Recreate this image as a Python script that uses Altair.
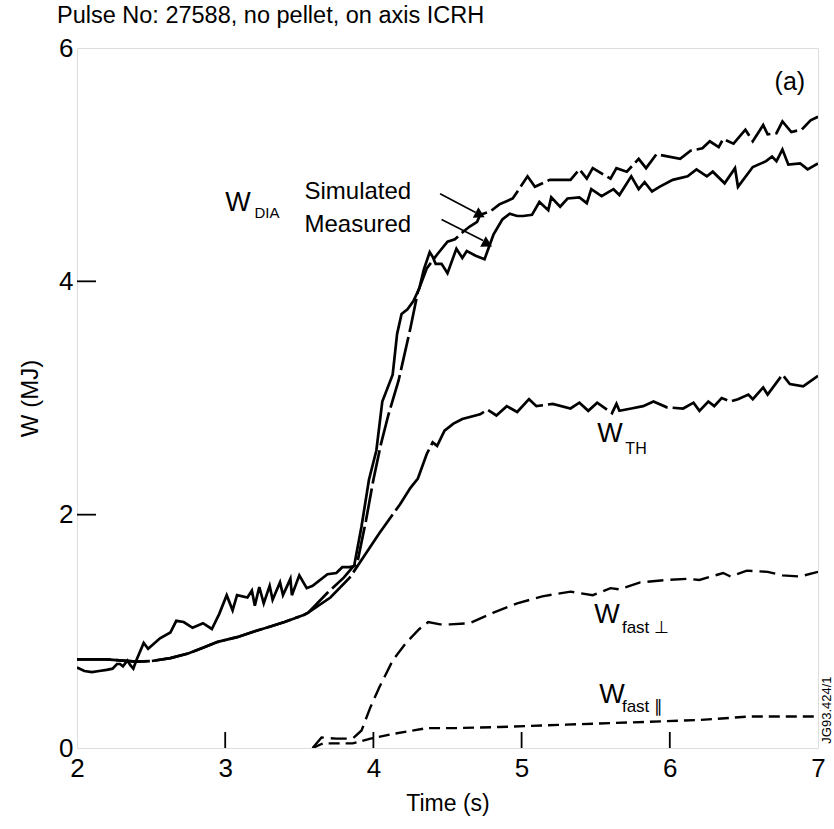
import altair as alt
import pandas as pd

# ---------------- data ----------------
meas_t = [2.0, 2.05, 2.1, 2.15, 2.2, 2.24, 2.27, 2.29, 2.31, 2.34, 2.36, 2.38, 2.4, 2.45, 2.48, 2.56,
          2.63, 2.67, 2.72, 2.78, 2.85, 2.91, 2.96, 3.01, 3.05, 3.08, 3.15, 3.18, 3.2, 3.23, 3.26,
          3.3, 3.32, 3.37, 3.39, 3.44, 3.45, 3.5, 3.55, 3.59, 3.69, 3.75, 3.79, 3.84, 3.87, 3.92,
          3.97, 4.02, 4.06, 4.13, 4.16, 4.19, 4.23, 4.27, 4.31, 4.34, 4.38, 4.40, 4.42, 4.46, 4.5,
          4.56, 4.6, 4.63, 4.69, 4.75, 4.81, 4.87, 4.92, 4.97, 5.01, 5.07, 5.12, 5.18, 5.2, 5.26,
          5.31, 5.39, 5.44, 5.47, 5.54, 5.62, 5.66, 5.74, 5.79, 5.83, 5.88, 5.93, 6.02, 6.12, 6.18,
          6.25, 6.29, 6.37, 6.44, 6.46, 6.56, 6.65, 6.69, 6.72, 6.76, 6.8, 6.88, 6.93, 7.0]
meas_w = [0.69, 0.66, 0.65, 0.66, 0.67, 0.68, 0.72, 0.72, 0.70, 0.75, 0.71, 0.68, 0.75, 0.90, 0.85, 0.94,
          0.99, 1.09, 1.08, 1.03, 1.07, 1.02, 1.15, 1.31, 1.18, 1.31, 1.29, 1.35, 1.22, 1.38, 1.24,
          1.39, 1.27, 1.42, 1.31, 1.45, 1.31, 1.48, 1.37, 1.39, 1.49, 1.50, 1.55, 1.55, 1.56, 1.90,
          2.30, 2.55, 2.97, 3.20, 3.55, 3.72, 3.76, 3.83, 3.94, 4.10, 4.25, 4.21, 4.15, 4.15, 4.07,
          4.28, 4.20, 4.26, 4.22, 4.19, 4.40, 4.53, 4.58, 4.56, 4.56, 4.57, 4.68, 4.61, 4.72, 4.64,
          4.71, 4.72, 4.67, 4.79, 4.73, 4.79, 4.74, 4.90, 4.79, 4.85, 4.77, 4.81, 4.87, 4.90, 4.96,
          4.90, 4.94, 4.84, 4.97, 4.81, 4.98, 5.03, 5.07, 5.03, 5.13, 5.00, 5.01, 4.96, 5.01]

sim_t = [2.0, 2.2, 2.4, 2.5, 2.63, 2.75, 2.85, 2.95, 3.08, 3.2, 3.3, 3.4, 3.53, 3.56, 3.69, 3.8,
         3.86, 3.89, 3.95, 4.0, 4.05, 4.1, 4.17, 4.25, 4.3, 4.36, 4.43, 4.5, 4.55, 4.61, 4.65,
         4.7, 4.72, 4.79, 4.85, 4.94, 5.04, 5.09, 5.19, 5.33, 5.39, 5.44, 5.48, 5.6, 5.64, 5.71,
         5.79, 5.84, 5.91, 6.07, 6.14, 6.22, 6.27, 6.33, 6.36, 6.43, 6.51, 6.56, 6.63, 6.66, 6.72,
         6.76, 6.82, 6.89, 6.95, 7.0]
sim_w = [0.76, 0.76, 0.74, 0.745, 0.77, 0.81, 0.86, 0.91, 0.95, 1.00, 1.04, 1.08, 1.14, 1.16, 1.33, 1.46,
         1.55, 1.58, 1.95, 2.30, 2.60, 2.85, 3.15, 3.60, 3.91, 4.11, 4.23, 4.34, 4.36, 4.43, 4.47,
         4.51, 4.57, 4.60, 4.66, 4.71, 4.90, 4.81, 4.87, 4.87, 4.96, 4.88, 4.97, 4.88, 4.97, 4.94,
         5.05, 4.97, 5.09, 5.05, 5.12, 5.14, 5.20, 5.15, 5.22, 5.18, 5.30, 5.20, 5.34, 5.26, 5.27,
         5.37, 5.28, 5.30, 5.38, 5.41]

th_t = [2.0, 2.2, 2.4, 2.5, 2.63, 2.75, 2.85, 2.95, 3.08, 3.2, 3.3, 3.4, 3.53, 3.56, 3.71, 3.84,
        3.93, 4.04, 4.18, 4.25, 4.3, 4.36, 4.4, 4.43, 4.48, 4.54, 4.6, 4.72, 4.77, 4.83, 4.9,
        4.97, 5.05, 5.1, 5.21, 5.33, 5.39, 5.45, 5.51, 5.61, 5.64, 5.66, 5.74, 5.82, 5.89, 5.98,
        6.09, 6.16, 6.2, 6.26, 6.3, 6.35, 6.41, 6.46, 6.53, 6.56, 6.63, 6.66, 6.76, 6.81, 6.9, 7.0]
th_w = [0.76, 0.76, 0.74, 0.745, 0.77, 0.81, 0.86, 0.91, 0.95, 1.00, 1.04, 1.08, 1.14, 1.16, 1.29, 1.46,
        1.63, 1.84, 2.09, 2.23, 2.31, 2.52, 2.62, 2.59, 2.72, 2.78, 2.82, 2.86, 2.90, 2.85, 2.93,
        2.88, 2.99, 2.93, 2.95, 2.91, 2.96, 2.89, 2.96, 2.87, 2.95, 2.89, 2.91, 2.93, 2.97, 2.92,
        2.91, 2.96, 2.89, 2.97, 2.93, 3.00, 2.97, 2.99, 3.03, 2.99, 3.09, 3.03, 3.20, 3.12, 3.10, 3.19]

perp_t = [3.59, 3.65, 3.75, 3.86, 3.92, 3.98, 4.04, 4.13, 4.22, 4.31, 4.37, 4.45, 4.52, 4.65, 4.81,
          4.97, 5.14, 5.33, 5.48, 5.6, 5.66, 5.8, 5.98, 6.12, 6.2, 6.36, 6.41, 6.52, 6.66, 6.76, 6.88, 7.0]
perp_w = [0.0, 0.09, 0.08, 0.08, 0.15, 0.35, 0.52, 0.75, 0.90, 1.02, 1.08, 1.06, 1.06, 1.07, 1.16,
          1.24, 1.30, 1.34, 1.31, 1.37, 1.36, 1.42, 1.44, 1.45, 1.44, 1.50, 1.47, 1.52, 1.51, 1.48, 1.47, 1.51]

par_t = [3.59, 3.66, 3.86, 3.98, 4.13, 4.36, 4.54, 4.85, 5.3, 5.75, 6.2, 6.54, 7.0]
par_w = [0.0, 0.04, 0.04, 0.08, 0.12, 0.17, 0.17, 0.18, 0.20, 0.22, 0.24, 0.27, 0.27]

x_tick_vals = [3, 4, 5, 6]
y_tick_vals = [2, 4]
x_label_vals = [2, 3, 4, 5, 6, 7]
y_label_vals = [0, 2, 4, 6]

# ---------------- frames ----------------
df_meas = pd.DataFrame({"t": meas_t, "w": meas_w})
df_sim = pd.DataFrame({"t": sim_t, "w": sim_w})
df_th = pd.DataFrame({"t": th_t, "w": th_w})
df_perp = pd.DataFrame({"t": perp_t, "w": perp_w})
df_par = pd.DataFrame({"t": par_t, "w": par_w})

xs = alt.Scale(domain=[2, 7], nice=False, zero=False)
ys = alt.Scale(domain=[0, 6], nice=False, zero=False)

X = alt.X("t:Q", scale=xs,
          axis=alt.Axis(values=x_label_vals, format="d", tickSize=0, domain=False, grid=False,
                        labelFontSize=26, labelPadding=7, labelColor="black",
                        labelFont="Liberation Sans", labelFlush=False,
                        title="Time (s)", titleFontSize=23, titleFontWeight="normal",
                        titleFont="Liberation Sans", titleColor="black", titlePadding=11))
Y = alt.Y("w:Q", scale=ys,
          axis=alt.Axis(values=y_label_vals, format="d", tickSize=0, domain=False, grid=False,
                        labelFontSize=26, labelPadding=4, labelColor="black",
                        labelFont="Liberation Sans", labelFlush=False,
                        title="W (MJ)", titleFontSize=24, titleFontWeight="normal",
                        titleFont="Liberation Sans", titleColor="black", titlePadding=16))

def line(df, dash=None, sw=2.7):
    kw = dict(color="black", strokeWidth=sw, clip=True)
    if dash:
        kw["strokeDash"] = dash
    return alt.Chart(df).mark_line(**kw).encode(x=X, y=Y)

l_th = line(df_th, [70, 5])
l_sim = line(df_sim, [34, 5])
l_meas = line(df_meas)
l_perp = line(df_perp, [16, 7], 2.4)
l_par = line(df_par, [11, 6], 2.4)

# inward ticks
xt = alt.Chart(pd.DataFrame({"t": x_tick_vals, "y0": [0.0] * 4, "y1": [0.137] * 4})).mark_rule(
    color="black", strokeWidth=1.8).encode(x=alt.X("t:Q", scale=xs), y=alt.Y("y0:Q", scale=ys), y2="y1:Q")
yt = alt.Chart(pd.DataFrame({"w": y_tick_vals, "x0": [2.0] * 2, "x1": [2.128] * 2})).mark_rule(
    color="black", strokeWidth=1.8).encode(y=alt.Y("w:Q", scale=ys), x=alt.X("x0:Q", scale=xs), x2="x1:Q")

# annotations
def txt(t, w, s, size, align="center", angle=0):
    kw = dict(fontSize=size, font="Liberation Sans", color="black", align=align, baseline="middle")
    if angle:
        kw["angle"] = angle
    return alt.Chart(pd.DataFrame({"t": [t], "w": [w], "s": [s]})).mark_text(**kw).encode(
        x=alt.X("t:Q", scale=xs), y=alt.Y("w:Q", scale=ys), text="s:N")

ann = [
    txt(6.81, 5.71, "(a)", 25),
    txt(3.086, 4.675, "W", 27),
    txt(3.282, 4.59, "DIA", 15),
    txt(3.535, 4.77, "Simulated", 24, "left"),
    txt(3.535, 4.48, "Measured", 24, "left"),
    txt(5.597, 2.692, "W", 27),
    txt(5.772, 2.564, "TH", 16),
    txt(5.576, 1.137, "W", 27),
    txt(5.677, 1.026, "fast \u22a5", 17, "left"),
    txt(5.61, 0.453, "W", 27),
    txt(5.677, 0.35, "fast \u2225", 17, "left"),
    txt(7.06, 0.325, "JG93.424/1", 13, "center", 270),
]

# arrows
arr = pd.DataFrame({"t0": [4.45, 4.46], "w0": [4.75, 4.53], "t1": [4.69, 4.74], "w1": [4.59, 4.35],
                    "tt": [4.72, 4.77], "wt": [4.57, 4.32], "ang": [118, 118]})
arrow_lines = alt.Chart(arr).mark_rule(color="black", strokeWidth=1.6).encode(
    x=alt.X("t0:Q", scale=xs), y=alt.Y("w0:Q", scale=ys), x2="t1:Q", y2="w1:Q")
arrow_heads = alt.Chart(arr).mark_point(shape="triangle-up", filled=True, color="black", size=140,
                                        opacity=1).encode(
    x=alt.X("tt:Q", scale=xs), y=alt.Y("wt:Q", scale=ys), angle=alt.Angle("ang:Q", scale=None))

chart = alt.layer(l_th, l_sim, l_meas, l_perp, l_par, xt, yt, arrow_lines, arrow_heads, *ann).properties(
    width=741, height=700,
    title=alt.Title("Pulse No: 27588, no pellet, on axis ICRH", anchor="start", frame="group",
                    dx=-20, offset=8,
                    fontSize=23.5, font="Liberation Sans", fontWeight="normal", color="black"),
    padding={"left": 77, "top": 48, "right": 16, "bottom": 81},
    autosize=alt.AutoSizeParams(type="none"),
).configure_view(stroke="black", strokeWidth=2).configure(background="white")

chart.save("out.html", embed_options={"renderer": "svg", "actions": False})
